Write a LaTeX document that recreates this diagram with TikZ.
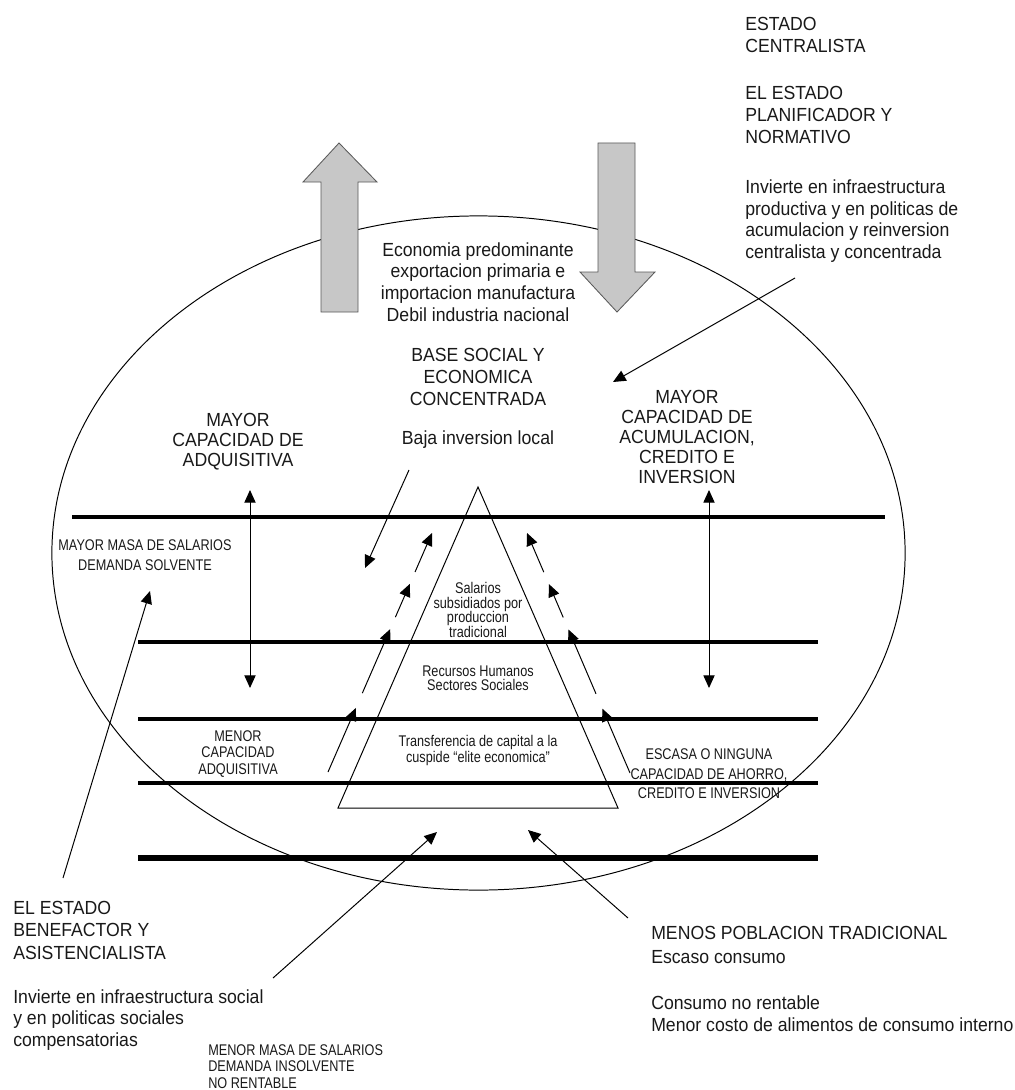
\documentclass[tikz,border=0pt]{standalone}
\usepackage{fontspec}
\setmainfont{Liberation Sans}[FakeStretch=0.93]
\newfontfamily\narrowfont{Liberation Sans}[FakeStretch=0.82]
\usepackage{tikz}
\usetikzlibrary{calc}
\usetikzlibrary{positioning}
\usetikzlibrary{arrows.meta}

\tikzset{
    bigtext/.style={font=\fontsize{13.5}{#1}\selectfont, inner sep=0pt, text=black!90},
    bigtext/.default=15.5,
    smalltext/.style={font=\narrowfont\fontsize{11}{#1}\selectfont, inner sep=0pt, text=black!90},
    smalltext/.default=12,
    arrowline/.style={-{Triangle[length=9pt,width=8pt]}, line width=0.7pt},
    bothways/.style={{Triangle[length=9pt,width=8pt]}-{Triangle[length=9pt,width=8pt]}, line width=0.7pt},
    blockarrow/.style={draw=black!65, fill=black!22, line width=0.6pt}
}

\begin{document}
\begin{tikzpicture}[x=0.025cm, y=-0.025cm]

        \useasboundingbox (0,0) rectangle (1014,1090);

        \path[draw, line width=0.7pt] (478.5,553) ellipse [x radius=10.6625cm, y radius=8.425cm];

        \path[blockarrow] (339,143) -- (377,182) -- (358,182) -- (358,312) -- (321,312) -- (321,182) -- (303,182) -- cycle;
        \path[blockarrow] (598,143) -- (635,143) -- (635,272) -- (655,272) -- (617,312) -- (580,272) -- (598,272) -- cycle;

        \path[draw, line width=3.5pt] (72,517) -- (885,517);
        \foreach \y in {642,719,783}
            \path[draw, line width=2.2pt] (138,\y) -- (818,\y);
        \path[draw, line width=4pt] (138,858) -- (818,858);

        \coordinate (apex) at (478,487);
        \coordinate (baseleft) at (338,808);
        \coordinate (baseright) at (618,808);
        \path[draw, line width=0.7pt] (apex) -- (baseleft) -- (baseright) -- cycle;

        \node[bigtext, align=left, anchor=west] (centralista) at (745,35) {ESTADO\\CENTRALISTA};
        \node[bigtext, align=left, anchor=west] (planificador) at (745,115) {EL ESTADO\\PLANIFICADOR Y\\NORMATIVO};
        \node[bigtext, align=left, anchor=west] (productiva) at (745,221) {Invierte en infraestructura\\productiva y en politicas de\\acumulacion y reinversion\\centralista y concentrada};
        \node[bigtext, align=center] (economia) at (478,282) {Economia predominante\\exportacion primaria e\\importacion manufactura\\Debil industria nacional};
        \node[bigtext, align=center] (basesocial) at (478,377) {BASE SOCIAL Y\\ECONOMICA\\CONCENTRADA};
        \node[bigtext] (baja) at (478,440) {Baja inversion local};
        \node[bigtext=14.2, align=center] (adquisitiva) at (238,442) {MAYOR\\CAPACIDAD DE\\ADQUISITIVA};
        \node[bigtext=14.2, align=center] (acumulacion) at (687,437) {MAYOR\\CAPACIDAD DE\\ACUMULACION,\\CREDITO E\\INVERSION};

        \node[smalltext=14, align=center] (solvente) at (145,555) {MAYOR MASA DE SALARIOS\\DEMANDA SOLVENTE};
        \node[smalltext=10.5, align=center] (subsidiados) at (478,610) {Salarios\\subsidiados por\\produccion\\tradicional};
        \node[smalltext=10.2, align=center] (recursos) at (478,678) {Recursos Humanos\\Sectores Sociales};
        \node[smalltext=10.7, align=center] (transferencia) at (478,750.5) {Transferencia de capital a la\\cuspide “elite economica”};
        \node[smalltext=12, align=center] (menorcap) at (238,754) {MENOR\\CAPACIDAD\\ADQUISITIVA};
        \node[smalltext=13.9, align=center] (escasa) at (709,774) {ESCASA O NINGUNA\\CAPACIDAD DE AHORRO,\\CREDITO E INVERSION};

        \node[bigtext=16, align=left, anchor=west] (benefactor) at (13,930) {EL ESTADO\\BENEFACTOR Y\\ASISTENCIALISTA};
        \node[bigtext, align=left, anchor=west] (social) at (13,1020) {Invierte en infraestructura social\\y en politicas sociales\\compensatorias};
        \node[smalltext=11.7, align=left, anchor=west] (insolvente) at (208,1066.5) {MENOR MASA DE SALARIOS\\DEMANDA INSOLVENTE\\NO RENTABLE};
        \node[bigtext=16.5, align=left, anchor=west] (tradicional) at (651,945) {MENOS POBLACION TRADICIONAL\\Escaso consumo};
        \node[bigtext, align=left, anchor=west] (rentable) at (651,1013.5) {Consumo no rentable\\Menor costo de alimentos de consumo interno};

        \coordinate (prodstart) at (795,278);
        \coordinate (prodend) at (613,382);
        \coordinate (bajastart) at (409,470);
        \coordinate (bajaend) at (365,568);
        \coordinate (benefstart) at (63,878);
        \coordinate (benefend) at (150,591);
        \coordinate (socialstart) at (273,978);
        \coordinate (socialend) at (437,832);
        \coordinate (menosstart) at (628,918);
        \coordinate (menosend) at (528,830);

        \path[draw, arrowline] (prodstart) -- (prodend);
        \path[draw, arrowline] (bajastart) -- (bajaend);
        \path[draw, arrowline] (benefstart) -- (benefend);
        \path[draw, arrowline] (socialstart) -- (socialend);
        \path[draw, arrowline] (menosstart) -- (menosend);

        \coordinate (adqtop) at (250,490);
        \coordinate (adqbot) at (250,688);
        \coordinate (acutop) at (709,490);
        \coordinate (acubot) at (709,688);
        \path[draw, bothways] (adqtop) -- (adqbot);
        \path[draw, bothways] (acutop) -- (acubot);

        \coordinate (la) at (328,772);
        \coordinate (lb) at (432,533);
        \coordinate (ra) at (630,773);
        \coordinate (rb) at (527,533);
        \foreach \s/\e in {0/0.268, 0.33/0.598, 0.648/0.787, 0.837/1}{
            \path[draw, arrowline] ($(la)!\s!(lb)$) -- ($(la)!\e!(lb)$);
            \path[draw, arrowline] ($(ra)!\s!(rb)$) -- ($(ra)!\e!(rb)$);
        }

    \end{tikzpicture}
\end{document}
